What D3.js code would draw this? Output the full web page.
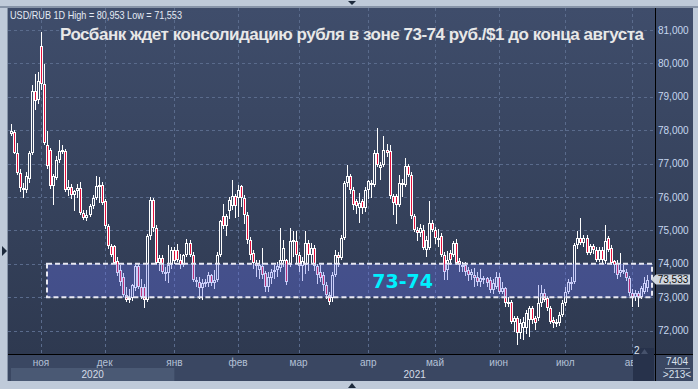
<!DOCTYPE html>
<html><head><meta charset="utf-8">
<script src="https://cdn.jsdelivr.net/npm/d3@7"></script>
<style>html,body{margin:0;padding:0;background:#bfcad9;}svg{display:block;}</style>
</head><body><svg id="c" width="698" height="389"></svg>
<script>
// ---- data ----
const startDate = [2020, 9, 19]; // first trading day (weekdays follow)
const opens = [
77.89,77.95,77.32,76.72,76.27,76.22,76.55,77.32,79.17,78.92,
80.52,79.37,77.57,77.42,76.32,76.57,77.12,77.37,77.37,76.22,
76.30,76.07,76.17,76.27,75.52,75.37,75.47,75.72,75.97,76.32,
76.37,75.87,75.12,74.52,74.52,74.07,73.82,73.62,73.07,72.97,
72.97,73.27,73.92,73.32,73.32,72.92,74.82,75.92,75.07,74.02,
74.17,73.77,73.72,73.97,74.42,74.42,74.12,73.97,74.27,74.62,
74.27,73.52,73.47,73.27,73.42,73.42,73.67,73.42,73.52,74.27,
75.42,75.12,75.57,75.72,76.02,75.97,76.32,75.97,75.47,74.72,
74.32,74.02,73.82,73.92,73.72,73.32,73.57,73.77,73.82,73.87,
74.07,74.12,73.97,74.67,74.67,74.27,73.92,73.97,74.62,74.27,
74.47,73.92,73.77,73.67,73.37,73.07,72.97,73.67,74.27,74.17,
74.77,76.42,76.62,76.22,75.87,75.67,75.87,75.67,76.22,76.42,
76.37,77.32,76.87,76.97,77.42,77.37,76.02,76.02,75.77,76.42,
76.37,76.92,76.67,75.42,75.02,74.92,75.02,74.42,74.47,75.22,
75.02,74.77,74.82,74.27,73.82,74.32,74.27,74.62,74.07,73.97,
73.97,73.82,73.67,73.67,73.62,73.47,73.57,73.57,73.52,73.22,
73.32,73.62,73.17,73.27,72.87,72.87,72.27,72.37,71.92,72.07,
72.07,72.32,72.67,72.37,72.37,72.82,73.12,72.97,72.67,72.32,
72.22,72.22,72.47,72.82,73.17,73.47,73.47,74.57,74.77,74.62,
74.77,74.32,74.52,74.42,74.12,74.42,74.07,74.77,74.47,74.07,
74.02,73.72,73.82,73.77,73.57,73.12,73.02,73.12,73.02,73.17,
73.27];
const highs = [
78.19,78.02,77.62,76.85,76.42,76.75,77.38,79.35,79.67,79.75,
80.95,79.97,77.97,77.48,76.68,77.22,77.72,77.55,77.45,76.50,
76.38,76.20,76.40,76.45,75.62,75.60,75.78,76.05,76.62,76.60,
76.45,75.95,75.20,74.60,74.55,74.20,73.95,73.72,73.30,73.25,
73.40,73.95,74.00,73.55,73.40,74.90,76.00,75.98,75.15,74.25,
74.25,73.90,74.57,74.50,74.50,74.60,74.30,74.28,74.75,74.70,
74.35,73.62,73.60,73.55,73.55,73.75,73.70,73.82,74.35,75.30,
75.80,75.50,76.00,76.52,76.10,76.35,76.37,76.05,75.55,74.80,
74.40,74.10,74.10,74.47,73.80,73.75,73.85,73.95,74.05,75.07,
74.72,74.15,75.07,74.97,74.97,74.35,74.20,74.97,74.70,74.62,
74.55,74.00,73.95,73.75,73.45,73.15,73.75,74.42,74.35,74.85,
76.47,76.97,76.70,76.30,75.95,76.12,75.95,76.30,76.52,76.52,
77.40,78.07,77.05,77.82,77.60,77.57,76.10,76.10,76.67,76.55,
77.17,77.00,76.75,75.50,75.10,75.20,75.15,74.82,75.87,75.30,
75.10,75.05,74.92,74.35,74.37,74.40,74.67,74.74,74.17,74.05,
74.05,73.90,73.85,73.87,73.75,73.85,73.65,73.62,73.60,73.55,
73.77,73.72,73.45,73.32,73.00,72.92,72.45,72.45,72.35,72.40,
72.62,72.75,72.75,72.45,73.37,73.37,73.25,73.05,72.75,72.40,
72.35,72.55,72.92,73.32,73.55,73.60,74.62,74.97,75.37,74.85,
74.85,74.60,74.60,74.50,74.50,74.50,75.17,74.82,74.55,74.12,
74.10,74.32,73.95,73.85,73.65,73.25,73.22,73.20,73.35,73.62,
73.67];
const lows = [
77.82,77.28,76.65,76.15,75.98,76.12,76.42,77.25,78.62,78.80,
79.20,77.55,76.85,76.25,75.77,76.50,77.02,77.28,76.15,76.02,
75.95,75.57,75.98,75.45,75.30,75.28,75.40,75.65,75.90,75.82,
75.77,75.05,74.45,74.20,73.98,73.65,73.35,73.00,72.85,72.82,
72.90,73.20,73.25,72.95,72.67,72.85,74.70,74.95,73.95,73.80,
73.70,73.50,73.42,73.85,74.00,74.05,73.85,73.90,74.20,74.20,
73.45,73.30,72.95,72.92,73.30,73.30,73.35,73.25,73.45,74.20,
75.05,74.82,75.35,75.60,75.37,75.40,75.70,75.20,74.60,74.10,
73.85,73.60,73.55,73.55,73.17,73.17,73.40,73.55,73.60,73.75,
73.90,73.37,73.90,74.20,74.00,73.75,73.50,73.70,73.80,74.00,
73.80,73.40,73.45,73.20,72.95,72.77,72.85,73.60,73.90,74.10,
74.70,76.30,76.10,75.62,75.50,75.22,75.50,75.55,75.95,75.97,
76.30,76.90,76.50,76.90,77.20,75.95,75.47,75.20,75.70,76.00,
76.30,76.60,75.35,74.95,74.67,74.80,74.40,74.20,74.40,74.95,
74.60,74.50,74.20,73.52,73.52,73.95,74.20,73.95,73.77,73.75,
73.65,73.50,73.52,73.32,73.35,73.32,73.40,73.30,73.12,73.10,
73.25,73.10,73.10,72.72,72.72,72.20,71.95,71.57,71.75,71.72,
71.90,71.82,72.20,72.02,72.30,72.72,72.85,72.60,72.20,72.07,
72.12,72.15,72.40,72.75,73.10,73.22,73.40,74.45,74.55,74.50,
74.25,74.25,74.30,74.05,74.05,74.00,74.00,74.35,73.95,73.72,
73.55,73.62,73.70,73.50,73.05,72.72,72.90,72.72,72.95,73.10,
73.15];
const closes = [
77.99,77.32,76.72,76.27,76.22,76.62,77.32,79.17,78.87,79.47,
79.37,77.62,76.92,76.32,76.62,77.12,77.37,77.42,76.22,76.30,
76.07,76.17,76.27,75.52,75.37,75.47,75.72,75.97,76.32,76.37,
75.82,75.12,74.52,74.27,74.02,73.72,73.47,73.07,72.92,72.95,
73.37,73.92,73.32,73.02,72.92,74.82,75.92,75.07,74.02,74.17,
73.77,73.72,73.97,74.42,74.07,74.12,73.97,74.27,74.62,74.27,
73.52,73.47,73.27,73.42,73.47,73.67,73.42,73.52,74.27,75.27,
75.12,75.42,75.92,76.02,75.72,76.22,75.97,75.47,74.72,74.27,
74.02,73.92,73.97,73.67,73.32,73.62,73.77,73.82,73.92,74.12,
74.47,73.47,74.67,74.72,74.27,73.92,74.07,74.62,74.27,74.47,
73.92,73.67,73.57,73.37,73.07,72.87,73.67,74.27,74.17,74.77,
76.42,76.62,76.22,75.77,75.72,75.82,75.67,76.22,76.47,76.37,
77.32,76.97,76.97,77.42,77.32,76.02,75.82,75.77,76.42,76.37,
76.92,76.67,75.42,75.02,74.92,75.07,74.47,74.72,75.22,75.02,
74.77,74.72,74.27,73.77,74.12,74.12,74.62,74.02,73.97,73.92,
73.77,73.67,73.77,73.57,73.47,73.57,73.52,73.42,73.22,73.42,
73.62,73.17,73.27,72.82,72.82,72.27,72.37,71.92,72.22,72.27,
72.52,72.67,72.32,72.22,72.82,73.12,72.92,72.67,72.27,72.22,
72.27,72.47,72.82,73.17,73.47,73.42,74.57,74.77,74.62,74.77,
74.32,74.52,74.42,74.12,74.42,74.12,74.67,74.42,74.02,73.97,
73.67,73.82,73.77,73.57,73.12,73.02,73.12,73.02,73.27,73.42,
73.53];
const monthNames = ["янв","фев","мар","апр","май","июн","июл","авг","сен","окт","ноя","дек"];
const yTicks = [72,73,74,75,76,77,78,79,80,81];
const infoText = "USD/RUB 1D High = 80,953 Low = 71,553";
const titleText = "Росбанк ждет консолидацию рубля в зоне 73-74 руб./$1 до конца августа";
const zone = [73, 74];
const zoneLabel = "73-74";
const lastPrice = 73.533;
const cornerTop = "7404";
const cornerBottom = ">213<";

// ---- build dates (weekdays) ----
const N = closes.length;
const dates = [];
{ const d = new Date(startDate[0], startDate[1], startDate[2]);
  while (dates.length < N) { const w = d.getDay(); if (w !== 0 && w !== 6) dates.push(new Date(d)); d.setDate(d.getDate()+1); } }
const data = dates.map((dt,i)=>({dt, o:opens[i], h:highs[i], l:lows[i], c:closes[i]}));

// ---- layout ----
const W = 698, H = 389;
const L = 8, T = 8, R = 655, B = 354, PR = 693, BB = 381;
const svg = d3.select("#c");
const defs = svg.append("defs");
const grad = defs.append("linearGradient").attr("id","bg").attr("gradientUnits","userSpaceOnUse")
  .attr("x1",0).attr("y1",T).attr("x2",0).attr("y2",B);
grad.append("stop").attr("offset","0%").attr("stop-color","#3f4d6b");
grad.append("stop").attr("offset","100%").attr("stop-color","#2e3950");

const x = d3.scaleLinear().domain([-0.9, N + 1.6]).range([L, R]);
const y = d3.scaleLinear().domain([71.3, 81.66]).range([B, T]);
const fmt = v => v.toFixed(3).replace(".", ",");

// frame
svg.append("rect").attr("width",W).attr("height",H).attr("fill","#bfcad9");
svg.append("rect").attr("x",0).attr("y",6).attr("width",W).attr("height",2).attr("fill","#8794a8");
svg.append("rect").attr("x",L-1).attr("y",T).attr("width",1).attr("height",BB-T).attr("fill","#8794a8");
svg.append("rect").attr("x",L).attr("y",T).attr("width",PR-L).attr("height",BB-T).attr("fill","url(#bg)");
svg.append("rect").attr("x",L).attr("y",B).attr("width",PR-L).attr("height",BB-B).attr("fill","#3a4762");
svg.append("path").attr("d","M348,1 L356,1 L352,5 Z").attr("fill","#1d2a3c");
svg.append("path").attr("d","M348,388 L356,388 L352,383 Z").attr("fill","#1d2a3c");
svg.append("path").attr("d","M2,246 L2,256 L7,251 Z").attr("fill","#1d2a3c");

// grid
const grid = svg.append("g").attr("stroke","#5a6b8c").attr("stroke-width",1).attr("stroke-dasharray","3,3").attr("shape-rendering","crispEdges");
yTicks.forEach(v=>{ grid.append("line").attr("x1",L).attr("x2",R).attr("y1",Math.round(y(v))+0.5).attr("y2",Math.round(y(v))+0.5); });
const monthTicks = [];
for (let i=1;i<N;i++) if (dates[i].getMonth() !== dates[i-1].getMonth()) monthTicks.push(i);
monthTicks.forEach(i=>{ grid.append("line").attr("x1",Math.round(x(i))+0.5).attr("x2",Math.round(x(i))+0.5).attr("y1",T).attr("y2",B); });

// candles
const cg = svg.append("g").attr("shape-rendering","crispEdges");
data.forEach((d,i)=>{
  const cx = Math.round(x(i));
  const yo=y(d.o), yc=y(d.c);
  const top=Math.round(Math.min(yo,yc)), bot=Math.round(Math.max(yo,yc));
  const bh=Math.max(bot-top,2);
  cg.append("rect").attr("x",cx).attr("y",Math.round(y(d.h))).attr("width",1)
    .attr("height",Math.max(Math.round(y(d.l))-Math.round(y(d.h)),1)).attr("fill","#ffffff");
  cg.append("rect").attr("x",cx-1).attr("y",top).attr("width",3).attr("height",bh).attr("fill","#ffffff");
  if (bh>2) cg.append("rect").attr("x",cx).attr("y",top+1).attr("width",1).attr("height",bh-2)
    .attr("fill", d.c < d.o ? "#e4103c" : "url(#bg)");
});

// zone band
const zy0 = y(zone[1]), zy1 = y(zone[0]);
svg.append("rect").attr("x",47).attr("y",zy0).attr("width",605).attr("height",zy1-zy0)
  .attr("fill","rgb(103,115,238)").attr("fill-opacity",0.35);
svg.append("rect").attr("x",47).attr("y",zy0).attr("width",605).attr("height",zy1-zy0)
  .attr("fill","none").attr("stroke","#e8e8f2").attr("stroke-width",2).attr("stroke-dasharray","5,3");
svg.append("text").attr("x",402.7).attr("y",287.5).attr("text-anchor","middle")
  .attr("font-family","'DejaVu Sans', sans-serif").attr("font-weight","bold").attr("font-size",19)
  .attr("fill","#00f0ff").text(zoneLabel);

// title & info
svg.append("text").attr("x",10).attr("y",18.5).attr("font-family","'Liberation Sans', Arial, sans-serif")
  .attr("font-size",10.5).attr("fill","#e4eaf4").attr("textLength",172).attr("lengthAdjust","spacingAndGlyphs").text(infoText);
svg.append("text").attr("x",60).attr("y",40).attr("font-family","'Liberation Sans', Arial, sans-serif")
  .attr("font-weight","bold").attr("font-size",17).attr("fill","#e8e8e8").attr("textLength",584).text(titleText);

// axis lines
svg.append("rect").attr("x",R).attr("y",T).attr("width",1).attr("height",BB-T).attr("fill","#000");
svg.append("rect").attr("x",L).attr("y",B).attr("width",PR-L).attr("height",1).attr("fill","#000");

// right axis labels
const ya = svg.append("g").attr("font-family","'Liberation Sans', Arial, sans-serif").attr("font-size",10).attr("fill","#c6d7ef");
yTicks.forEach(v=>{ ya.append("text").attr("x",658).attr("y",y(v)+3.5).text(fmt(v)); });

// last price label
const yp = y(lastPrice);
svg.append("path").attr("d",`M651,${yp} L656,${yp-5} L690,${yp-5} L690,${yp+5} L656,${yp+5} Z`).attr("fill","#d0d6de");
svg.append("text").attr("x",673).attr("y",yp+3.5).attr("text-anchor","middle")
  .attr("font-family","'Liberation Sans', Arial, sans-serif").attr("font-size",10).attr("fill","#111").text(fmt(lastPrice));

// bottom axis: months and years
const xa = svg.append("g").attr("font-family","'Liberation Sans', Arial, sans-serif").attr("font-size",10).attr("fill","#b4c1d6");
monthTicks.forEach(i=>{ xa.append("text").attr("x",x(i)).attr("y",366).attr("text-anchor","middle").text(monthNames[dates[i].getMonth()]); });
const yearStarts = [0].concat(monthTicks.filter(i=>dates[i].getMonth()===0));
yearStarts.forEach((s,k)=>{
  const x0 = k===0 ? 11 : x(s);
  const x1 = k+1<yearStarts.length ? x(yearStarts[k+1]) : R;
  if (k%2===0) svg.append("rect").attr("x",x0).attr("y",368).attr("width",x1-x0).attr("height",13).attr("fill","#4a5974");
  svg.append("text").attr("x",(x0+x1)/2).attr("y",378).attr("text-anchor","middle")
    .attr("font-family","'Liberation Sans', Arial, sans-serif").attr("font-size",10).attr("fill","#d5dce8")
    .text(String(dates[s].getFullYear()));
});

// small "2" box
svg.append("rect").attr("x",633).attr("y",348).attr("width",21).attr("height",33).attr("fill","#27324b");
svg.append("path").attr("d","M641,354 L648,354 L644.5,349 Z").attr("fill","#46526c");
svg.append("text").attr("x",634).attr("y",353.5).attr("font-family","'Liberation Sans', Arial, sans-serif")
  .attr("font-size",10).attr("fill","#dfe6f2").text("2");

// corner texts
svg.append("text").attr("x",677).attr("y",365).attr("text-anchor","middle").attr("font-family","'Liberation Sans', Arial, sans-serif")
  .attr("font-size",10).attr("fill","#d8e0ec").text(cornerTop);
svg.append("rect").attr("x",665).attr("y",368).attr("width",25).attr("height",1).attr("fill","#9aa6ba");
svg.append("text").attr("x",677).attr("y",378).attr("text-anchor","middle").attr("font-family","'Liberation Sans', Arial, sans-serif")
  .attr("font-size",10).attr("fill","#d8e0ec").text(cornerBottom);
</script></body></html>
